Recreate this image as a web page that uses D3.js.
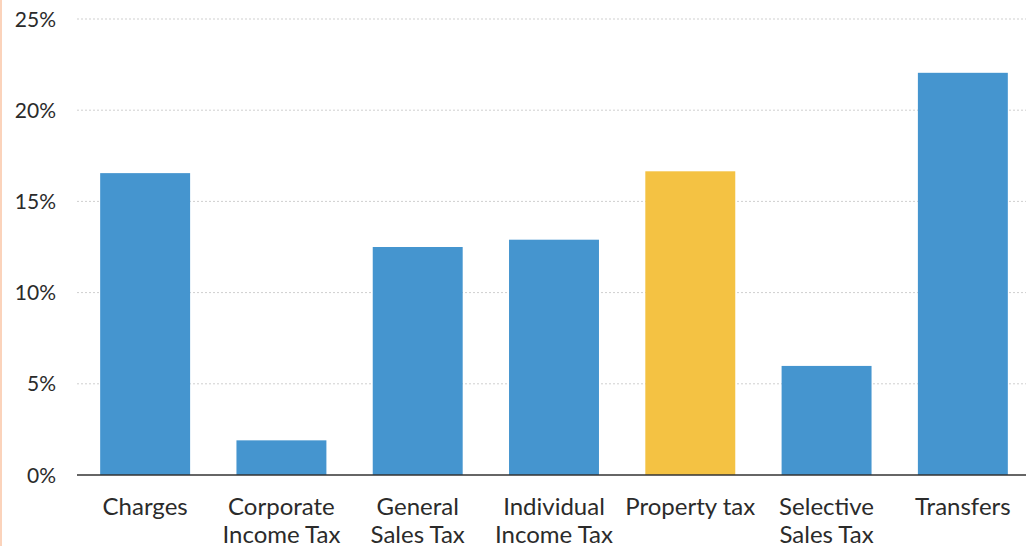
<!DOCTYPE html>
<html>
<head>
<meta charset="utf-8">
<script src="https://cdn.jsdelivr.net/npm/d3@7"></script>
<style>
  body { margin: 0; background: #fff; }
  svg { display: block; }
</style>
</head>
<body>
<div id="chart"></div>
<script>
const categories = ["Charges", "Corporate Income Tax", "General Sales Tax", "Individual Income Tax", "Property tax", "Selective Sales Tax", "Transfers"];
const labelLines = [["Charges"], ["Corporate", "Income Tax"], ["General", "Sales Tax"], ["Individual", "Income Tax"], ["Property tax"], ["Selective", "Sales Tax"], ["Transfers"]];
const shares = [16.55, 1.9, 12.5, 12.9, 16.65, 5.98, 22.05];
const yTicks = [0, 5, 10, 15, 20, 25];
const highlight = "Property tax";

const width = 1026, height = 546;
const margin = {top: 19, left: 77, bottom: 71};

const svg = d3.select("#chart").append("svg")
    .attr("width", width)
    .attr("height", height)
    .attr("font-family", "Lato, 'Open Sans', sans-serif");

// thin peach rule on the left edge
svg.append("rect")
    .attr("x", 0).attr("y", 0)
    .attr("width", 2).attr("height", height)
    .attr("fill", "#fbd3bb");

const x = d3.scaleBand()
    .domain(categories)
    .range([margin.left, 1031])
    .paddingInner(0.34)
    .paddingOuter(0.17);

const y = d3.scaleLinear()
    .domain([0, 25])
    .range([height - margin.bottom, margin.top]);

// gridlines
svg.append("g")
  .selectAll("line")
  .data(yTicks.filter(d => d > 0))
  .join("line")
    .attr("x1", margin.left).attr("x2", width)
    .attr("y1", d => y(d)).attr("y2", d => y(d))
    .attr("stroke", "#cfcfcf")
    .attr("stroke-dasharray", "2,2");

// y labels
svg.append("g")
  .selectAll("text")
  .data(yTicks)
  .join("text")
    .attr("x", 56)
    .attr("y", d => y(d))
    .attr("dy", "0.36em")
    .attr("text-anchor", "end")
    .attr("font-size", 21)
    .attr("fill", "#2b2b2b")
    .text(d => d + "%");

// bars
svg.append("g")
  .selectAll("rect")
  .data(categories)
  .join("rect")
    .attr("x", d => x(d))
    .attr("width", x.bandwidth())
    .attr("y", (d, i) => y(shares[i]))
    .attr("height", (d, i) => y(0) - y(shares[i]))
    .attr("fill", d => d === highlight ? "#f4c243" : "#4595cf");

// baseline
svg.append("line")
    .attr("x1", margin.left).attr("x2", width)
    .attr("y1", y(0)).attr("y2", y(0))
    .attr("stroke", "#333")
    .attr("stroke-width", 1.5);

// category labels
const lab = svg.append("g")
  .selectAll("text")
  .data(categories)
  .join("text")
    .attr("text-anchor", "middle")
    .attr("font-size", 24)
    .attr("fill", "#2b2b2b")
    .attr("x", d => x(d) + x.bandwidth() / 2);

lab.selectAll("tspan")
  .data((d, i) => labelLines[i])
  .join("tspan")
    .attr("x", function() { return this.parentNode.getAttribute("x"); })
    .attr("y", (d, i) => 515 + i * 28)
    .text(d => d);
</script>
</body>
</html>
